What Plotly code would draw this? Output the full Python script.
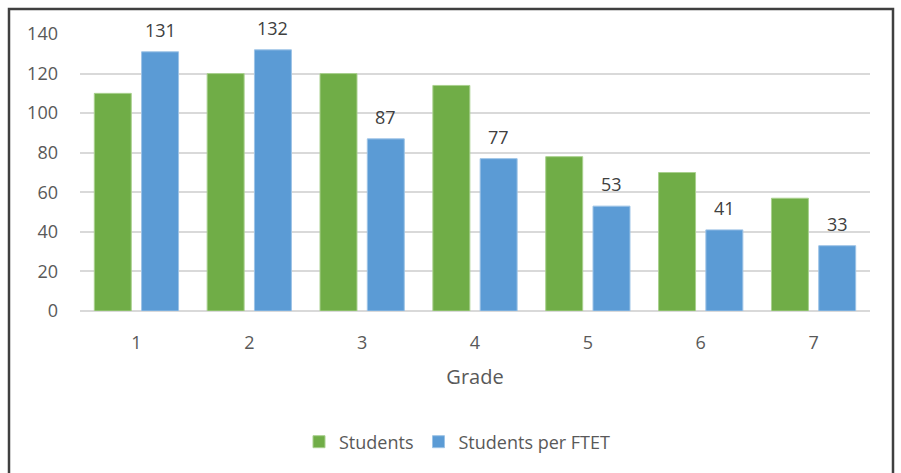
import plotly.graph_objects as go

# Enrolment by grade
grades = [1, 2, 3, 4, 5, 6, 7]
students = [110, 120, 120, 114, 78, 70, 57]
students_per_ftet = [131, 132, 87, 77, 53, 41, 33]

GREEN = "#70ad47"
BLUE = "#5b9bd5"
TEXT = "#595959"
FONT = "Open Sans, Carlito, Calibri, sans-serif"

W, H = 901, 473
ML, MR, MT, MB = 80, 31, 34, 162
PW, PH = W - ML - MR, H - MT - MB
BARGAP, GROUPGAP = 0.162, 0.218


def px_x(x):
    return (x - ML) / PW


def px_y(y):
    return (H - MB - y) / PH


fig = go.Figure()
fig.add_trace(go.Bar(
    x=grades, y=students, name="Students",
    marker=dict(color=GREEN, line=dict(color="#a9d08e", width=1)),
))
fig.add_trace(go.Bar(
    x=grades, y=students_per_ftet, name="Students per FTET",
    marker=dict(color=BLUE, line=dict(color="#9dc3e6", width=1)),
))

# Value labels above the "Students per FTET" bars
slot_px = PW / len(grades) * (1 - BARGAP) / 2
for g, v in zip(grades, students_per_ftet):
    fig.add_annotation(
        x=g, y=v, xref="x", yref="y", text=str(v), showarrow=False,
        xshift=slot_px / 2, yshift=22, yanchor="middle",
        font=dict(family=FONT, size=18, color="#404040"),
    )

# Outer frame around the chart
fig.add_shape(
    type="rect", xref="paper", yref="paper",
    x0=px_x(9), x1=px_x(893), y0=px_y(9), y1=px_y(490),
    line=dict(color="#404040", width=2.5), fillcolor="rgba(0,0,0,0)",
    layer="below",
)

fig.update_layout(
    width=W, height=H,
    margin=dict(l=ML, r=MR, t=MT, b=MB, pad=0),
    paper_bgcolor="white", plot_bgcolor="white",
    barmode="group", bargap=BARGAP, bargroupgap=GROUPGAP,
    font=dict(family=FONT, size=18, color=TEXT),
    showlegend=True,
    legend=dict(
        orientation="h", x=px_x(457), xanchor="center",
        y=px_y(442), yanchor="middle",
        font=dict(family=FONT, size=18, color=TEXT),
        itemwidth=30, traceorder="normal",
    ),
    xaxis=dict(
        range=[0.5, 7.5], tickmode="array", tickvals=grades,
        ticktext=[str(g) for g in grades],
        showgrid=False, zeroline=False, showline=False,
        ticks="", ticklabelstandoff=19,
        tickfont=dict(family=FONT, size=18, color=TEXT),
        title=dict(text="Grade", standoff=16,
                   font=dict(family=FONT, size=20, color=TEXT)),
    ),
    yaxis=dict(
        range=[0, 140], dtick=20, showgrid=True, gridcolor="#d9d9d9",
        gridwidth=2, zeroline=True, zerolinecolor="#d9d9d9", zerolinewidth=2,
        showline=False, ticks="", ticklabelstandoff=21,
        tickfont=dict(family=FONT, size=18, color=TEXT),
    ),
)

fig.write_html("out.html")
